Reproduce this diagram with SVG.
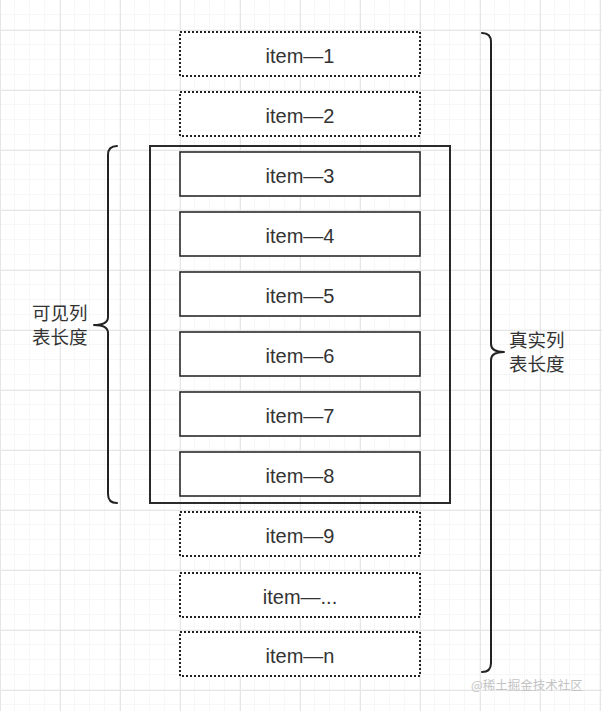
<svg xmlns="http://www.w3.org/2000/svg" width="602" height="711" viewBox="0 0 602 711">
  <defs>
    <pattern id="minor" width="15" height="15" patternUnits="userSpaceOnUse">
      <path d="M15 0V15M0 15H15" fill="none" stroke="#efefef" stroke-width="1"/>
    </pattern>
    <pattern id="major" x="0" y="30" width="60" height="60" patternUnits="userSpaceOnUse">
      <path d="M0.5 0V60M0 0.5H60" fill="none" stroke="#e6e6e6" stroke-width="1"/>
    </pattern>
    <style>
      .dot { fill: #ffffff; stroke: #222222; stroke-width: 2; stroke-dasharray: 2 2; }
      .solid { fill: #ffffff; stroke: #2a2a2a; stroke-width: 1.6; }
      .frame { fill: none; stroke: #2a2a2a; stroke-width: 2; }
      .lbl { font-family: "Liberation Sans", Helvetica, Arial, sans-serif; font-size: 20px; fill: #333333; text-anchor: middle; }
      .cjk { font-family: "Noto Sans CJK SC", "Liberation Sans", sans-serif; font-size: 18.5px; fill: #333333; }
      .brace { fill: none; stroke: #222222; stroke-width: 2; stroke-linejoin: round; stroke-linecap: round; }
      .wm { font-family: "Noto Sans CJK SC", "Liberation Sans", sans-serif; font-size: 12.5px; fill: #c4c4c4; }
    </style>
  </defs>
  <rect width="602" height="711" fill="#ffffff"/>
  <rect width="602" height="711" fill="url(#minor)"/>
  <rect width="602" height="711" fill="url(#major)"/>

  <g id="frame"><rect class="frame" x="150" y="146" width="300" height="357"/></g>

  <g id="item-1"><rect class="dot" x="180" y="32" width="240" height="44"/><text class="lbl" x="300" y="63">item—1</text></g>
  <g id="item-2"><rect class="dot" x="180" y="92" width="240" height="44"/><text class="lbl" x="300" y="123">item—2</text></g>
  <g id="item-3"><rect class="solid" x="180" y="152" width="240" height="44"/><text class="lbl" x="300" y="183">item—3</text></g>
  <g id="item-4"><rect class="solid" x="180" y="212" width="240" height="44"/><text class="lbl" x="300" y="243">item—4</text></g>
  <g id="item-5"><rect class="solid" x="180" y="272" width="240" height="44"/><text class="lbl" x="300" y="303">item—5</text></g>
  <g id="item-6"><rect class="solid" x="180" y="332" width="240" height="44"/><text class="lbl" x="300" y="363">item—6</text></g>
  <g id="item-7"><rect class="solid" x="180" y="392" width="240" height="44"/><text class="lbl" x="300" y="423">item—7</text></g>
  <g id="item-8"><rect class="solid" x="180" y="452" width="240" height="44"/><text class="lbl" x="300" y="483">item—8</text></g>
  <g id="item-9"><rect class="dot" x="180" y="512" width="240" height="44"/><text class="lbl" x="300" y="543">item—9</text></g>
  <g id="item-etc"><rect class="dot" x="180" y="573" width="240" height="44"/><text class="lbl" x="300" y="604">item—...</text></g>
  <g id="item-n"><rect class="dot" x="180" y="632" width="240" height="44"/><text class="lbl" x="300" y="663">item—n</text></g>

  <g id="connectors">
    <path class="brace" d="M117 146 Q108 146 108 155 V317 Q108 325 94 325 Q108 325 108 333 V494 Q108 503 117 503"/>
    <path class="brace" d="M482 33 Q491 33 491 42 V344 Q491 352 504 352 Q491 352 491 360 V663 Q491 672 482 672"/>
  </g>

  <g id="visible-label">
    <text class="cjk"><tspan x="32" y="320">可见列</tspan><tspan x="32" y="344">表长度</tspan></text>
  </g>
  <g id="real-label">
    <text class="cjk"><tspan x="509" y="347">真实列</tspan><tspan x="509" y="371">表长度</tspan></text>
  </g>
  <text class="wm" x="471" y="690">@稀土掘金技术社区</text>
</svg>
